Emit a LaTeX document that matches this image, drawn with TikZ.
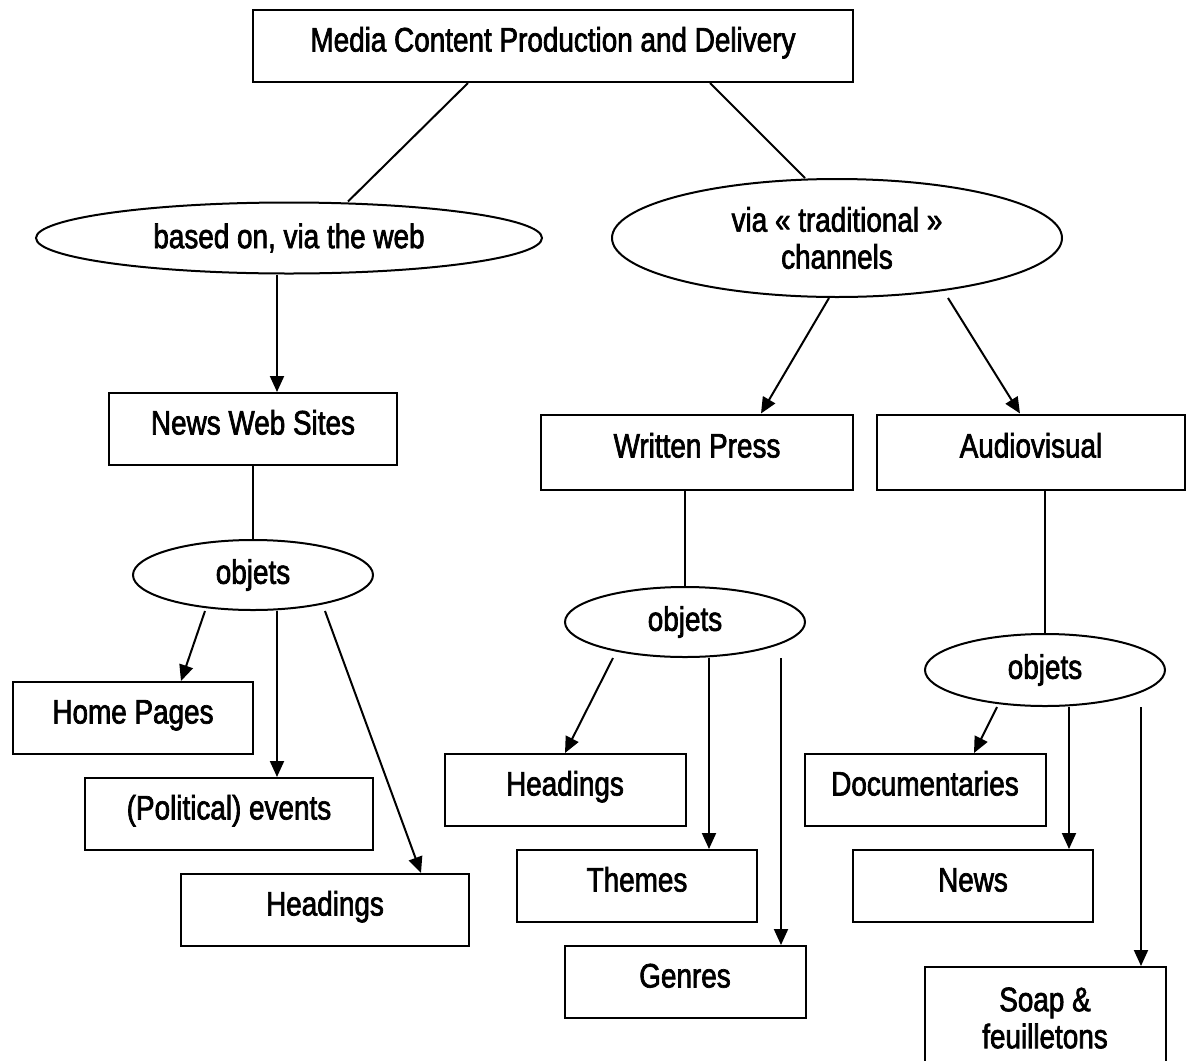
\documentclass[tikz,border=0pt]{standalone}
\usepackage{fontspec}
\setmainfont{Liberation Sans}[FakeStretch=0.82,FakeBold=2]
\usepackage{xcolor}
\usetikzlibrary{arrows.meta,shapes.geometric}

\begin{document}
\begin{tikzpicture}[
  x=1pt, y=-1pt,
  >={Triangle[length=16pt,width=14pt]},
  line width=2pt,
  every node/.style={font=\fontsize{34}{37}\selectfont},
  entry/.style={rectangle,draw,align=center,minimum width=240pt,minimum height=72pt,text height=24pt,text depth=13pt,inner sep=0pt},
  branch/.style={ellipse,draw,align=center,minimum width=240pt,minimum height=70pt,inner sep=0pt}
]
\useasboundingbox (0,0) rectangle (1187,1061);

\node[entry, minimum width=600pt] (media) at (553,46) {Media Content Production and Delivery};
\node[branch, minimum width=506pt, minimum height=71pt] (web) at (289,238) {based on, via the web};
\node[branch, minimum width=450pt, minimum height=118pt] (trad) at (837,238) {via « traditional »\\channels};

\node[entry, minimum width=288pt] (sites) at (253,429) {News Web Sites};
\node[entry, minimum width=312pt, minimum height=75pt] (press) at (697,452) {Written Press};
\node[entry, minimum width=308pt, minimum height=75pt] (av) at (1031,452) {Audiovisual};

\node[branch] (objweb) at (253,575) {objets};
\node[branch] (objpress) at (685,622) {objets};
\node[branch, minimum height=72pt] (objav) at (1045,670) {objets};

\node[entry] (home) at (133,718) {Home Pages};
\node[entry, minimum width=288pt] (events) at (229,814) {(Political) events};
\node[entry, minimum width=288pt] (headweb) at (325,910) {Headings};

\node[entry, minimum width=241pt] (headpress) at (565,790) {Headings};
\node[entry] (themes) at (637,886) {Themes};
\node[entry, minimum width=241pt] (genres) at (685,982) {Genres};

\node[entry, minimum width=241pt] (docs) at (925,790) {Documentaries};
\node[entry] (news) at (973,886) {News};
\node[entry, minimum width=241pt, minimum height=102pt, text height=, text depth=] (soap) at (1045,1018) {Soap \&\\feuilletons};

% plain links
\draw ([xshift=-85pt]media.south) -- ([xshift=59pt]web.north);
\draw ([xshift=157pt]media.south) -- ([xshift=-32pt]trad.north);
\draw (sites) -- (objweb);
\draw (objpress.north |- press.south) -- (objpress.north);
\draw (objav.north |- av.south) -- (objav.north);

% arrows
\draw[->] ([xshift=-12pt]web.south) -- ([xshift=24pt]sites.north);
\draw[->] ([xshift=-8pt]trad.south) -- ([xshift=64pt]press.north);
\draw[->] ([xshift=111pt]trad.south) -- ([xshift=-11pt]av.north);

\draw[->] ([xshift=-48pt]objweb.south) -- ([xshift=48pt]home.north);
\draw[->] ([xshift=24pt]objweb.south) -- ([xshift=48pt]events.north);
\draw[->] ([xshift=72pt]objweb.south) -- ([xshift=96pt]headweb.north);

\draw[->] ([xshift=-72pt]objpress.south) -- (headpress.north);
\draw[->] ([xshift=24pt]objpress.south) -- ([xshift=72pt]themes.north);
\draw[->] ([xshift=96pt]objpress.south) -- ([xshift=96pt]genres.north);

\draw[->] ([xshift=-48pt]objav.south) -- ([xshift=49pt]docs.north);
\draw[->] ([xshift=24pt]objav.south) -- ([xshift=96pt]news.north);
\draw[->] ([xshift=96pt]objav.south) -- ([xshift=96pt]soap.north);
\end{tikzpicture}
\end{document}
